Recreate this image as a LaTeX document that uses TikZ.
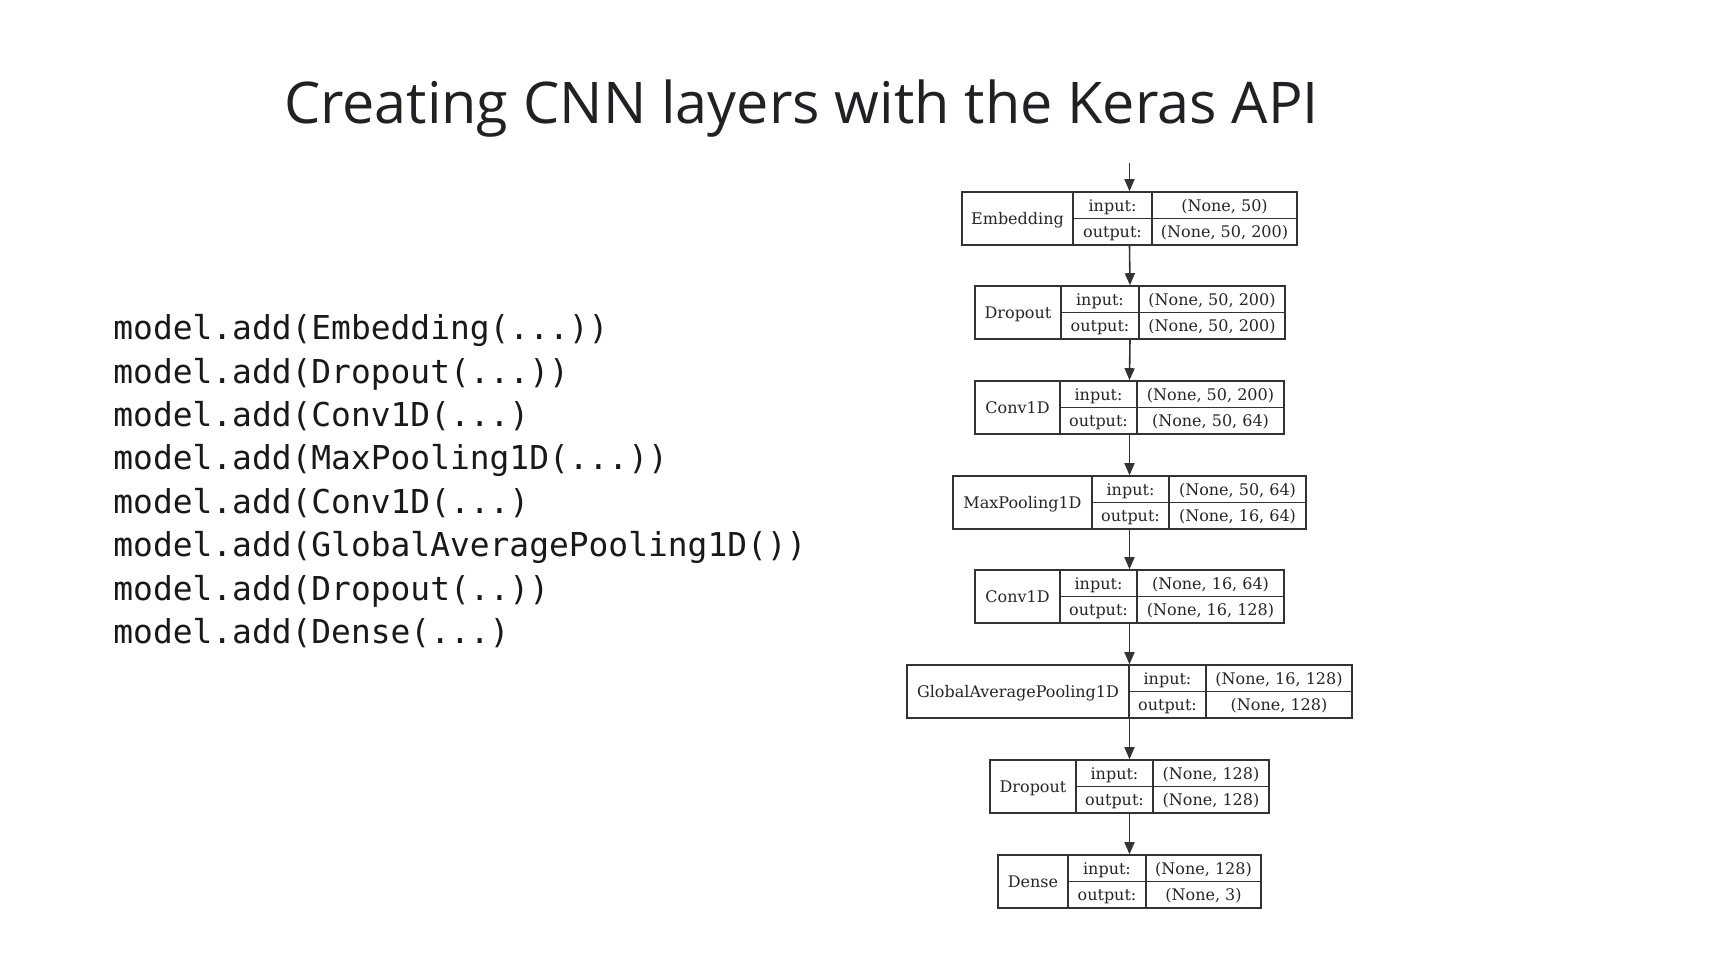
\documentclass[tikz,border=0pt]{standalone}
\usepackage{fontspec}
\usepackage{xcolor}
\usepackage{tikz}
\usetikzlibrary{arrows.meta}
\newfontfamily\titlefont{Open Sans}
\newfontfamily\codefont{DejaVu Sans Mono}
\newfontfamily\boxfont{DejaVu Serif}
\definecolor{ink}{HTML}{202124}
\definecolor{edge}{HTML}{333333}
\tikzstyle{layer} = [draw=edge, line width=0.45pt, inner sep=0pt, minimum height=0.53cm]
\tikzstyle{cell} = [draw=edge, line width=0.45pt]
\tikzstyle{celltext} = [inner sep=0pt, text height=3.3pt, text depth=0pt, font={\boxfont\fontsize{4.55}{5.5}\selectfont}, text=black!85]
\tikzstyle{code} = [inner sep=0pt, anchor=base west, font={\codefont\fontsize{9.36}{12}\selectfont}, text=black!90]
\tikzstyle{flow} = [line width=0.45pt, draw=edge, -{Triangle[length=0.12cm, width=0.10cm]}]
% #1 name, #2 label, #3 left, #4 first divider, #5 second divider, #6 right, #7 top, #8 input, #9 output
\newcommand{\kerasbox}[9]{%
  \node[layer, minimum width={(#6-#3)*1cm}] (#1) at ({(#3+#6)/2},{#7+0.265}) {};
  \draw[cell] ({#4},{#7}) -- ({#4},{#7+0.53});
  \draw[cell] ({#5},{#7}) -- ({#5},{#7+0.53});
  \draw[cell] ({#4},{#7+0.265}) -- ({#6},{#7+0.265});
  \node[celltext] (#1-name) at ({(#3+#4)/2},{#7+0.265}) {#2};
  \node[celltext] (#1-inl) at ({(#4+#5)/2},{#7+0.1325}) {input:};
  \node[celltext] (#1-outl) at ({(#4+#5)/2},{#7+0.3975}) {output:};
  \node[celltext] (#1-in) at ({(#5+#6)/2},{#7+0.1325}) {#8};
  \node[celltext] (#1-out) at ({(#5+#6)/2},{#7+0.3975}) {#9};
}

\begin{document}
\begin{tikzpicture}[x=1cm, y=-1cm]
    \useasboundingbox[fill=white] (0,0) rectangle (17.25,9.73);
    % title
    \node[inner sep=0pt, anchor=base west, text=ink, font={\titlefont\fontsize{16.36}{20}\selectfont}] (title) at (2.833,1.24) {Creating CNN layers with the Keras API};
    % code on the left
    \node[code] (line1) at (1.127,3.400) {model.add(Embedding(...))};
    \node[code] (line2) at (1.127,3.833) {model.add(Dropout(...))};
    \node[code] (line3) at (1.127,4.267) {model.add(Conv1D(...)};
    \node[code] (line4) at (1.127,4.700) {model.add(MaxPooling1D(...))};
    \node[code] (line5) at (1.127,5.133) {model.add(Conv1D(...)};
    \node[code] (line6) at (1.127,5.567) {model.add(GlobalAveragePooling1D())};
    \node[code] (line7) at (1.127,6.000) {model.add(Dropout(..))};
    \node[code] (line8) at (1.127,6.433) {model.add(Dense(...)};
    % model graph
    \kerasbox{emb}{Embedding}{9.62}{10.73}{11.52}{12.97}{1.92}{(None, 50)}{(None, 50, 200)}
    \kerasbox{drop1}{Dropout}{9.75}{10.61}{11.39}{12.85}{2.86}{(None, 50, 200)}{(None, 50, 200)}
    \kerasbox{conv1}{Conv1D}{9.75}{10.60}{11.37}{12.84}{3.81}{(None, 50, 200)}{(None, 50, 64)}
    \kerasbox{pool}{MaxPooling1D}{9.53}{10.92}{11.69}{13.06}{4.76}{(None, 50, 64)}{(None, 16, 64)}
    \kerasbox{conv2}{Conv1D}{9.75}{10.60}{11.37}{12.84}{5.70}{(None, 16, 64)}{(None, 16, 128)}
    \kerasbox{gap}{GlobalAveragePooling1D}{9.07}{11.29}{12.06}{13.52}{6.65}{(None, 16, 128)}{(None, 128)}
    \kerasbox{drop2}{Dropout}{9.90}{10.76}{11.53}{12.69}{7.60}{(None, 128)}{(None, 128)}
    \kerasbox{dense}{Dense}{9.98}{10.68}{11.46}{12.61}{8.55}{(None, 128)}{(None, 3)}
    \coordinate (start) at (11.295,1.63);
    \draw[flow] (start) -- (emb.north);
    \draw[flow] (emb.south) -- (drop1.north);
    \draw[flow] (drop1.south) -- (conv1.north);
    \draw[flow] (conv1.south) -- (pool.north);
    \draw[flow] (pool.south) -- (conv2.north);
    \draw[flow] (conv2.south) -- (gap.north);
    \draw[flow] (gap.south) -- (drop2.north);
    \draw[flow] (drop2.south) -- (dense.north);
\end{tikzpicture}
\end{document}
